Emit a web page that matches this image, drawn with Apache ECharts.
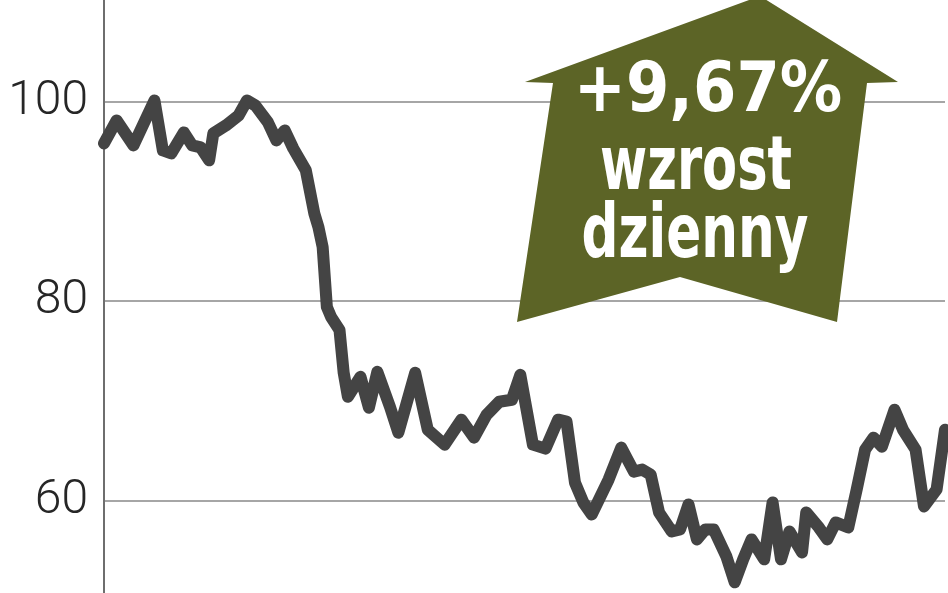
<!DOCTYPE html>
<html>
<head>
<meta charset="utf-8">
<script src="https://cdn.jsdelivr.net/npm/echarts@6/dist/echarts.min.js"></script>
<style>
  html, body { margin: 0; padding: 0; background: #fff; }
  #chart { width: 948px; height: 593px; }
</style>
</head>
<body>
<div id="chart"></div>
<script>
// dzien notowania (indeks) i kurs
const days = [0, 3, 7, 12, 14, 16, 19, 21, 23, 25, 26, 29, 32, 34, 36, 39, 41, 43, 45, 48,
  50, 51, 52, 53, 54, 56, 57, 58, 61, 63, 65, 68, 70, 74, 77, 81, 85, 88, 91, 94,
  97, 99, 102, 105, 108, 110, 112, 114, 116, 120, 123, 126, 128, 130, 132, 135, 137, 139, 141, 143,
  145, 148, 150, 152, 154, 157, 159, 161, 163, 166, 167, 170, 172, 174, 177, 179, 181, 183, 185, 188,
  190, 193, 195, 198, 200];
const prices = [95.8, 98.1, 95.6, 100.1, 95.1, 94.8, 96.9, 95.6, 95.4, 94.1, 96.8, 97.6, 98.6, 100.1, 99.6, 97.9, 96.1, 97.1, 95.3, 93.1,
  88.8, 87.4, 85.4, 79.4, 78.4, 77.1, 72.8, 70.4, 72.4, 69.3, 72.9, 69.4, 66.8, 72.8, 67.1, 65.6, 68.1, 66.3, 68.6, 69.9,
  70.1, 72.6, 65.6, 65.2, 68.1, 67.9, 61.8, 59.8, 58.6, 62.1, 65.3, 62.9, 63.1, 62.6, 58.8, 56.9, 57.1, 59.6, 56.1, 57.1,
  57.1, 54.4, 51.8, 54.1, 56.1, 54.1, 59.8, 54.1, 56.9, 54.8, 58.8, 57.3, 56.1, 57.8, 57.3, 61.1, 65.1, 66.3, 65.4, 69.1,
  67.1, 65.1, 59.4, 61.1, 67.1];
const badgeLines = ['+9,67%', 'wzrost', 'dzienny'];

const points = days.map((d, i) => [d, prices[i]]);

const badgeFont = "'DejaVu Sans Condensed', 'Liberation Sans Narrow', sans-serif";

const chart = echarts.init(document.getElementById('chart'));
chart.setOption({
  animation: false,
  grid: { left: 104, right: 3, top: -98, bottom: -107, outerBoundsMode: 'none', containLabel: false },
  xAxis: {
    type: 'value', min: 0, max: 200,
    show: false
  },
  yAxis: {
    type: 'value', min: 40, max: 120, interval: 20,
    axisLine: { show: true, lineStyle: { color: '#6e6e6e', width: 2 } },
    axisTick: { show: false },
    axisLabel: {
      color: '#262626', fontSize: 48, fontWeight: 300,
      fontFamily: 'Roboto, "Noto Sans", sans-serif', margin: 16
    },
    splitLine: { lineStyle: { color: '#a6a6a6', width: 2 } }
  },
  series: [{
    type: 'line',
    data: points,
    symbol: 'none',
    lineStyle: { color: '#444', width: 12, join: 'round', cap: 'round' },
    z: 3
  }],
  graphic: [
    {
      type: 'polygon', z: 10,
      shape: { points: [[760, -4], [898, 82], [867, 83], [837, 322], [680, 277], [517, 322], [553, 83], [525, 82]] },
      style: { fill: '#5c6426' }
    },
    {
      type: 'text', z: 11, x: 708, y: 93, scaleX: 1.05, scaleY: 1.05,
      style: { text: badgeLines[0], fill: '#fff', font: 'bold 66px ' + badgeFont, align: 'center', verticalAlign: 'middle' }
    },
    {
      type: 'text', z: 11, x: 696, y: 170, scaleX: 0.86, scaleY: 1.12,
      style: { text: badgeLines[1], fill: '#fff', font: 'bold 66px ' + badgeFont, align: 'center', verticalAlign: 'middle' }
    },
    {
      type: 'text', z: 11, x: 695, y: 238, scaleX: 0.87, scaleY: 1.12,
      style: { text: badgeLines[2], fill: '#fff', font: 'bold 66px ' + badgeFont, align: 'center', verticalAlign: 'middle' }
    }
  ]
});
</script>
</body>
</html>
